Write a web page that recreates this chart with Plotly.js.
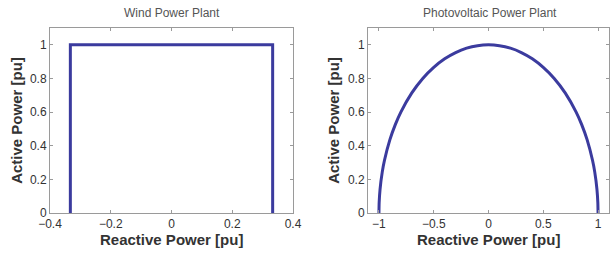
<!DOCTYPE html>
<html>
<head>
<meta charset="utf-8">
<script src="https://cdn.plot.ly/plotly-3.0.1.min.js"></script>
<style>html,body{margin:0;padding:0;background:#fff;overflow:hidden}#chart{width:610px;height:255px}</style>
</head>
<body>
<div id="chart"></div>
<script>
// Wind power plant capability (rectangle)
const windQ = [-0.333, -0.333, 0.333, 0.333];
const windP = [0, 1, 1, 0];
// Photovoltaic power plant capability (semicircle)
const pvQ = [-1, -0.998, -0.99, -0.97, -0.95, -0.9, -0.85, -0.8, -0.7, -0.6, -0.5, -0.4, -0.3, -0.2, -0.1, 0,
             0.1, 0.2, 0.3, 0.4, 0.5, 0.6, 0.7, 0.8, 0.85, 0.9, 0.95, 0.97, 0.99, 0.998, 1];
const pvP = [0, 0.063, 0.141, 0.243, 0.312, 0.436, 0.527, 0.6, 0.714, 0.8, 0.866, 0.917, 0.954, 0.98, 0.995, 1,
             0.995, 0.98, 0.954, 0.917, 0.866, 0.8, 0.714, 0.6, 0.527, 0.436, 0.312, 0.243, 0.141, 0.063, 0];
const titles = ["Wind Power Plant", "Photovoltaic Power Plant"];
const xTitle = "Reactive Power [pu]";
const yTitle = "Active Power [pu]";
const windXTicks = [-0.4, -0.2, 0, 0.2, 0.4];
const pvXTicks = [-1, -0.5, 0, 0.5, 1];
const yTicks = [0, 0.2, 0.4, 0.6, 0.8, 1];

const lineColor = "#3b3b9e";
const frame = "#9a9a9a";
const fam = "Liberation Sans, Arial, sans-serif";
const tickFont = {family: fam, size: 12, color: "#333"};
const titleFont = {family: fam, size: 15, color: "#333", weight: "bold"};

function ax(extra) {
  return Object.assign({
    showgrid: false, zeroline: false, showline: true, linecolor: frame, linewidth: 1,
    mirror: "ticks", ticks: "inside", ticklen: 3, tickcolor: frame, tickfont: tickFont,
    fixedrange: true
  }, extra);
}
const fmt = v => v < 0 ? "\u2212" + Math.abs(v) : String(v);

const traces = [
  {x: windQ, y: windP, xaxis: "x", yaxis: "y", mode: "lines", line: {color: lineColor, width: 3}, hoverinfo: "skip"},
  {x: pvQ, y: pvP, xaxis: "x2", yaxis: "y2", mode: "lines", line: {color: lineColor, width: 3, shape: "spline", smoothing: 0.6}, hoverinfo: "skip"}
];

const layout = {
  width: 610, height: 255,
  margin: {l: 0, r: 0, t: 0, b: 0},
  paper_bgcolor: "#fff", plot_bgcolor: "#fff",
  showlegend: false,
  xaxis: ax({domain: [50/610, 293/610], range: [-0.4, 0.4], tickvals: windXTicks, ticktext: windXTicks.map(fmt), anchor: "y",
    ticklabelstandoff: 0}),
  yaxis: ax({domain: [1 - 213/255, 1 - 28/255], range: [0, 1.1], tickvals: yTicks, anchor: "x",
    title: {text: yTitle, font: titleFont, standoff: 3}}),
  xaxis2: ax({domain: [368/610, 609/610], range: [-1.1, 1.1], tickvals: pvXTicks, ticktext: pvXTicks.map(fmt), anchor: "y2",
    ticklabelstandoff: 0}),
  yaxis2: ax({domain: [1 - 213/255, 1 - 28/255], range: [0, 1.1], tickvals: yTicks, anchor: "x2",
    title: {text: yTitle, font: titleFont, standoff: 4}}),
  annotations: [
    {text: titles[0], xref: "paper", yref: "paper", x: 172/610, y: 1 - 13/255, showarrow: false, xanchor: "center", yanchor: "middle",
      font: {family: fam, size: 12, color: "#555"}},
    {text: titles[1], xref: "paper", yref: "paper", x: 490/610, y: 1 - 13/255, showarrow: false, xanchor: "center", yanchor: "middle",
      font: {family: fam, size: 12, color: "#555"}},
    {text: xTitle, xref: "x domain", yref: "paper", x: 0.5, y: 1 - 239/255, showarrow: false, xanchor: "center", yanchor: "middle",
      font: titleFont},
    {text: xTitle, xref: "x2 domain", yref: "paper", x: 0.5, y: 1 - 239/255, showarrow: false, xanchor: "center", yanchor: "middle",
      font: titleFont}
  ]
};

Plotly.newPlot("chart", traces, layout, {staticPlot: true, displayModeBar: false});
</script>
</body>
</html>
